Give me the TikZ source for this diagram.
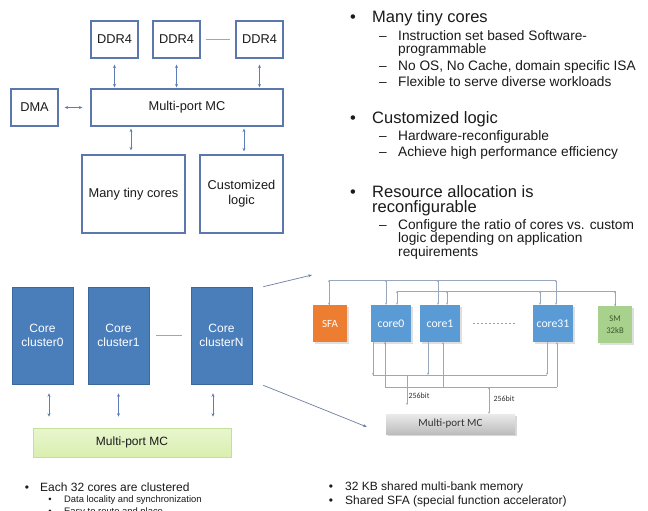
\documentclass[tikz,border=0pt]{standalone}
\usepackage{fontspec}
\setmainfont{Liberation Sans}
\newfontfamily\calib{Carlito}
\usetikzlibrary{arrows.meta,shadows}
\definecolor{boxblue}{HTML}{5A78AE}
\definecolor{arrblue}{HTML}{5C7DB5}
\definecolor{clblue}{HTML}{4A7EBB}
\definecolor{clborder}{HTML}{3C689C}
\definecolor{corebl}{HTML}{5B9BD5}
\definecolor{sfaor}{HTML}{ED7D31}
\definecolor{smgr}{HTML}{A9D18E}
\definecolor{busgray}{HTML}{9AA8BC}
\definecolor{txt}{HTML}{1A1A1A}
\definecolor{ptrcol}{HTML}{6B7FA0}
\definecolor{gtop}{HTML}{E9F6CF}
\definecolor{gbot}{HTML}{D9EFAE}
\definecolor{gbrd}{HTML}{C4DF98}
\definecolor{smtxt}{HTML}{3A5A2A}
\definecolor{graytop}{HTML}{EAEAEA}
\definecolor{graybot}{HTML}{BDBDBD}
\definecolor{dgray}{HTML}{333333}
\definecolor{dashcol}{HTML}{9AA86A}
\tikzset{
  obox/.style={draw=boxblue, line width=1.2pt, fill=white, text=txt, inner sep=0pt,
    minimum height=37pt, align=center, font=\fontsize{12.8}{15}\selectfont},
  biarr/.style={draw=arrblue, line width=0.7pt,
    {Stealth[length=3.5pt,width=3pt]}-{Stealth[length=3.5pt,width=3pt]}},
  cluster/.style={fill=clblue, draw=clborder, line width=0.6pt, text=white, inner sep=0pt,
    minimum width=61pt, minimum height=97pt, align=center, font=\fontsize{12}{14}\selectfont},
  rbox/.style={minimum height=37pt, inner sep=0pt, align=center,
    drop shadow={opacity=0.25, shadow xshift=1.5pt, shadow yshift=-1.5pt}},
  bus/.style={draw=busgray, line width=0.6pt},
  tip/.style={-{Stealth[length=2.2pt,width=2pt]}},
  btip/.style={{Stealth[length=2.2pt,width=2pt]}-{Stealth[length=2.2pt,width=2pt]}},
  big/.style={text=txt, font=\fontsize{16.5}{18}\selectfont, inner sep=0pt},
  sub/.style={text=txt, font=\fontsize{13.7}{15}\selectfont, inner sep=0pt},
  small/.style={text=txt, font=\fontsize{12}{14}\selectfont, inner sep=0pt},
  tiny/.style={text=txt, font=\fontsize{9.4}{11}\selectfont, inner sep=0pt},
  pointer/.style={draw=ptrcol, line width=0.7pt, -{Stealth[length=4pt,width=3pt]}},
}
\begin{document}
\begin{tikzpicture}[x=1pt,y=-1pt]
\useasboundingbox (0,0) rectangle (648,511);
\fill[white] (0,0) rectangle (648,511);

% ---------- top-left block diagram ----------
\node[obox, minimum width=47pt] (ddrA) at (114.5,39.5) {DDR4};
\node[obox, minimum width=47pt] (ddrB) at (176.5,39.5) {DDR4};
\node[obox, minimum width=47pt] (ddrC) at (259.5,39.5) {DDR4};
\node[obox, minimum width=47pt] (dma) at (34.5,107.5) {DMA};
\node[obox, minimum width=192pt] (mc) at (187,107.5) {Multi-port MC};
\node[obox, minimum width=103pt, minimum height=78pt] (many) at (133.5,194) {Many tiny cores};
\node[obox, minimum width=83pt, minimum height=78pt] (cust) at (241.5,194) {Customized\\logic};

\draw[draw=busgray, line width=0.6pt, shorten <=5pt, shorten >=5pt] (ddrB.east) -- (ddrC.west);
\draw[biarr, shorten <=6pt, shorten >=1pt] (ddrA.south) -- (ddrA.south |- mc.north);
\draw[biarr, shorten <=6pt, shorten >=1pt] (ddrB.south) -- (ddrB.south |- mc.north);
\draw[biarr, shorten <=6pt, shorten >=1pt] (ddrC.south) -- (ddrC.south |- mc.north);
\draw[biarr, shorten <=6pt, shorten >=8pt] (dma.east) -- (mc.west);
\draw[biarr, shorten <=2pt, shorten >=4pt] ([xshift=-2.5pt]many.north |- mc.south) -- ([xshift=-2.5pt]many.north);
\draw[biarr, shorten <=2pt, shorten >=3pt] ([xshift=2.5pt]cust.north |- mc.south) -- ([xshift=2.5pt]cust.north);

% ---------- right text ----------
\node[big, anchor=base] at (353,23) {•};
\node[big, anchor=base west] at (372,23) {Many tiny cores};
\node[sub, anchor=base] at (383,40.5) {–};
\node[sub, anchor=base west] at (398,40.5) {Instruction set based Software-};
\node[sub, anchor=base west] at (398,54) {programmable};
\node[sub, anchor=base] at (383,70.5) {–};
\node[sub, anchor=base west] at (398,70.5) {No OS, No Cache, domain specific ISA};
\node[sub, anchor=base] at (383,86.5) {–};
\node[sub, anchor=base west] at (398,86.5) {Flexible to serve diverse workloads};

\node[big, anchor=base] at (353,123.5) {•};
\node[big, anchor=base west] at (372,123.5) {Customized logic};
\node[sub, anchor=base] at (383,140) {–};
\node[sub, anchor=base west] at (398,140) {Hardware-reconfigurable};
\node[sub, anchor=base] at (383,156.5) {–};
\node[sub, anchor=base west] at (398,156.5) {Achieve high performance efficiency};

\node[big, anchor=base] at (353,197) {•};
\node[big, anchor=base west] at (372,197) {Resource allocation is};
\node[big, anchor=base west] at (372,212) {reconfigurable};
\node[sub, anchor=base] at (383,229) {–};
\node[sub, anchor=base west] at (398,229) {Configure the ratio of cores vs. custom};
\node[sub, anchor=base west] at (398,242.5) {logic depending on application};
\node[sub, anchor=base west] at (398,256) {requirements};

% ---------- bottom-left clusters ----------
\node[cluster] (c0) at (42.5,335.5) {Core\\cluster0};
\node[cluster] (c1) at (118.5,335.5) {Core\\cluster1};
\node[cluster] (cN) at (221.5,335.5) {Core\\clusterN};
\draw[draw=busgray, line width=0.6pt, shorten <=7pt, shorten >=9pt] (c1.east) -- (cN.west);
\node[minimum width=198pt, minimum height=29pt, inner sep=0pt,
  top color=gtop, bottom color=gbot, draw=gbrd, line width=0.6pt,
  text=txt, font=\fontsize{12}{14}\selectfont] (gmc) at (132,442.5) {Multi-port MC};
\draw[biarr, shorten <=9pt, shorten >=11pt] ([xshift=6.5pt]c0.south) -- ([xshift=6.5pt]c0.south |- gmc.north);
\draw[biarr, shorten <=9pt, shorten >=11pt] (c1.south) -- (c1.south |- gmc.north);
\draw[biarr, shorten <=9pt, shorten >=11pt] ([xshift=-8.5pt]cN.south) -- ([xshift=-8.5pt]cN.south |- gmc.north);

\node[small, anchor=base] at (27,491) {•};
\node[small, anchor=base west] at (40,491) {Each 32 cores are clustered};
\node[tiny, anchor=base] at (50,502.5) {•};
\node[tiny, anchor=base west] at (64,502.5) {Data locality and synchronization};
\node[tiny, anchor=base] at (50,514) {•};
\node[tiny, anchor=base west] at (64,514) {Easy to route and place};

% ---------- right detailed diagram ----------
\node[rbox, fill=sfaor, minimum width=34pt, text=white, font=\calib\fontsize{11}{12}\selectfont] (sfa) at (330,323.5) {SFA};
\node[rbox, fill=corebl, minimum width=40pt, text=white, font=\calib\fontsize{11.7}{13}\selectfont] (k0) at (391,323.5) {core0};
\node[rbox, fill=corebl, minimum width=40pt, text=white, font=\calib\fontsize{11.7}{13}\selectfont] (k1) at (440,323.5) {core1};
\node[rbox, fill=corebl, minimum width=40pt, text=white, font=\calib\fontsize{11.7}{13}\selectfont] (k31) at (553,323.5) {core31};
\node[rbox, fill=smgr, minimum width=34pt, text=smtxt, font=\calib\fontsize{8.7}{12}\selectfont] (sm) at (615,324.5) {SM\\32kB};
\node[minimum width=129pt, minimum height=20pt, inner sep=0pt, top color=graytop, bottom color=graybot,
  drop shadow={opacity=0.3, shadow xshift=2pt, shadow yshift=-2pt},
  text=dgray, font=\calib\fontsize{11}{12}\selectfont] (gray) at (450.5,424) {Multi-port MC};

\draw[draw=dashcol, line width=0.7pt, dash pattern=on 2pt off 2pt, shorten <=13pt, shorten >=18pt] (k1.east) -- (k31.west);

% top buses
\coordinate (busA) at (556,280);
\coordinate (busB) at (397,291);
\draw[bus] ([xshift=-1pt]sfa.north) |- (busA);
\draw[bus] (busB) -| (sm.north);
\draw[bus, btip] ([xshift=-1pt]sfa.north |- busA) -- ([xshift=-1pt]sfa.north);
\draw[bus, btip] ([xshift=-5pt]k0.north |- busA) -- ([xshift=-5pt]k0.north);
\draw[bus, btip] ([xshift=6pt]k0.north |- busB) -- ([xshift=6pt]k0.north);
\draw[bus, btip] ([xshift=-2pt]k1.north |- busA) -- ([xshift=-2pt]k1.north);
\draw[bus, btip] ([xshift=7pt]k1.north |- busB) -- ([xshift=7pt]k1.north);
\draw[bus, btip] ([xshift=-13pt]k31.north |- busB) -- ([xshift=-13pt]k31.north);
\draw[bus, btip] ([xshift=3pt]k31.north |- busA) -- ([xshift=3pt]k31.north);
\draw[bus, btip] (sm.north |- busB) -- (sm.north);

% bottom buses
\coordinate (busC) at (547,375);
\coordinate (busD) at (557,387);
\draw[bus] ([xshift=-18pt]k0.south) |- (busC);
\draw[bus] ([xshift=-6pt]k0.south) |- (busD);
\draw[bus, tip] ([xshift=-18pt]k0.south) -- ([xshift=-18pt]k0.south |- busC);
\draw[bus, tip] ([xshift=-12pt]k1.south) -- ([xshift=-12pt]k1.south |- busC);
\draw[bus, tip] ([xshift=-6pt]k31.south) -- ([xshift=-6pt]k31.south |- busC);
\draw[bus, tip] ([xshift=-6pt]k0.south |- busD) -- ([xshift=-6pt]k0.south) ;
\draw[bus, tip] ([xshift=3pt]k1.south |- busD) -- ([xshift=3pt]k1.south);
\draw[bus, tip] ([xshift=4pt]k31.south |- busD) -- ([xshift=4pt]k31.south);

\coordinate (w1) at (407,375);
\coordinate (w1e) at (407,405);
\draw[bus, tip] (w1) -- (w1e);
\node[text=dgray, font=\calib\fontsize{8}{9}\selectfont, inner sep=0pt] (l1) at (419,396) {256bit};
\coordinate (w2) at (489,387);
\draw[bus, btip] (w2) -- (w2 |- gray.north);
\node[text=dgray, font=\calib\fontsize{8}{9}\selectfont, inner sep=0pt] (l2) at (504,399) {256bit};

% pointers
\coordinate (p1) at (312,275);
\coordinate (p2) at (367,427);
\draw[pointer] ([shift={(11pt,0)}]cN.north east) -- (p1);
\draw[pointer] ([shift={(11pt,-1pt)}]cN.south east) -- (p2);

% bottom-right text
\node[small, anchor=base] at (331,490) {•};
\node[small, anchor=base west] at (345,490) {32 KB shared multi-bank memory};
\node[small, anchor=base] at (331,504.5) {•};
\node[small, anchor=base west] at (345,504.5) {Shared SFA (special function accelerator)};
\end{tikzpicture}
\end{document}
